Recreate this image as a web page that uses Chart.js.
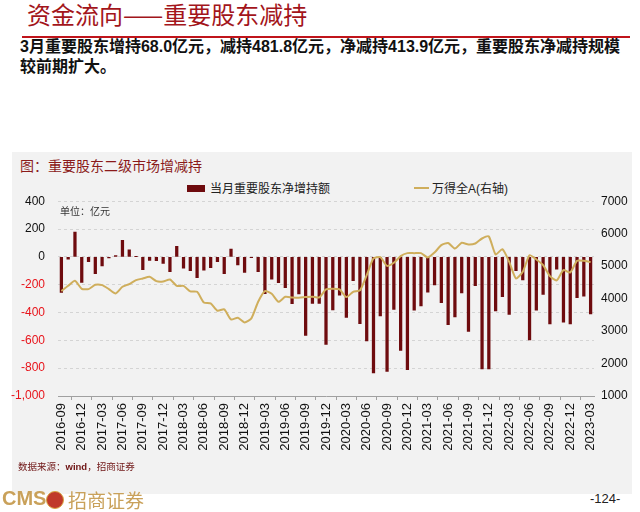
<!DOCTYPE html>
<html>
<head>
<meta charset="utf-8">
<script src="https://cdn.jsdelivr.net/npm/chart.js@4.4.0/dist/chart.umd.min.js"></script>
<style>
body { margin:0; width:640px; height:512px; position:relative; background:#fff; overflow:hidden; font-family:"Liberation Sans","Noto Sans CJK SC",sans-serif; }
.abs { position:absolute; white-space:nowrap; }
#titol { left:27px; top:-1px; font-size:24px; color:#a3151b; line-height:30px; font-family:"Noto Sans CJK SC",sans-serif; }
#ratlla { left:22px; top:36px; width:608px; height:2px; background:#c0141b; }
#text { left:20px; top:37px; font-size:16px; font-weight:bold; line-height:20px; color:#111; }
#panell { left:12px; top:152px; width:620px; height:342px; background:#f2f2f2; }
#figtitol { left:20px; top:155px; font-size:14px; color:#8b1a1a; }
.lleg { top:179px; font-size:12px; color:#222; }
#capsa { left:187px; top:185px; width:18px; height:7px; background:#6e0b0e; }
#linia { left:414px; top:187px; width:15px; height:2px; background:#cfae5c; }
#unitat { left:60px; top:203px; font-size:10px; color:#333; }
#font { left:18px; top:459px; font-size:9.5px; color:#6e1414; }
#cms { left:2px; top:487px; font-size:20px; font-weight:bold; color:#c9a15a; }
#logo { left:46px; top:491px; width:16px; height:16px; border-radius:50%; background:#c0392b; border:1px solid #d9a441; }
#nom { left:68px; top:486px; font-size:19px; color:#c9a15a; font-family:"Noto Sans CJK SC",sans-serif; }
#pagina { left:590px; top:491px; font-size:13px; color:#222; }
canvas { position:absolute; left:0; top:181px; }
</style>
</head>
<body>
<div class="abs" id="titol">资金流向——重要股东减持</div>
<div class="abs" id="ratlla"></div>
<div class="abs" id="text">3月重要股东增持68.0亿元，减持481.8亿元，净减持413.9亿元，重要股东净减持规模<br>较前期扩大。</div>
<div class="abs" id="panell"></div>
<div class="abs" id="figtitol">图：重要股东二级市场增减持</div>
<div class="abs" id="capsa"></div>
<div class="abs lleg" style="left:210px">当月重要股东净增持额</div>
<div class="abs" id="linia"></div>
<div class="abs lleg" style="left:432px">万得全A(右轴)</div>
<canvas id="grafic" width="640" height="289"></canvas>
<div class="abs" id="unitat">单位：亿元</div>
<div class="abs" id="font">数据来源：<b>wind</b>，招商证券</div>
<div class="abs" id="cms">CMS</div>
<div class="abs" id="logo"></div>
<div class="abs" id="nom">招商证券</div>
<div class="abs" id="pagina">-124-</div>
<script>
// mesos (categories)
let mesos = [
	"2016-09","2016-10","2016-11","2016-12",
	"2017-01","2017-02","2017-03","2017-04","2017-05","2017-06","2017-07","2017-08","2017-09","2017-10","2017-11","2017-12",
	"2018-01","2018-02","2018-03","2018-04","2018-05","2018-06","2018-07","2018-08","2018-09","2018-10","2018-11","2018-12",
	"2019-01","2019-02","2019-03","2019-04","2019-05","2019-06","2019-07","2019-08","2019-09","2019-10","2019-11","2019-12",
	"2020-01","2020-02","2020-03","2020-04","2020-05","2020-06","2020-07","2020-08","2020-09","2020-10","2020-11","2020-12",
	"2021-01","2021-02","2021-03","2021-04","2021-05","2021-06","2021-07","2021-08","2021-09","2021-10","2021-11","2021-12",
	"2022-01","2022-02","2022-03","2022-04","2022-05","2022-06","2022-07","2022-08","2022-09","2022-10","2022-11","2022-12",
	"2023-01","2023-02","2023-03"
];

// 当月重要股东净增持额 (亿元)
let netIncrement = [
	-255, -17, 178, -183,
	-34, -120, -65, -8, 10, 118, 50, 2, -92, -26, -28, -48,
	-106, 75, -82, -99, -150, -96, -77, -34, -120, 55, -58, -111,
	-5, -106, -265, -161, -186, -222, -337, -267, -564, -335, -335, -629,
	-381, -275, -436, -171, -480, -605, -834, -424, -824, -378, -672, -810,
	-383, -352, -253, -202, -330, -487, -431, -260, -535, -207, -805, -805,
	-389, -287, -414, -99, -166, -597, -383, -270, -482, -89, -470, -482,
	-293, -282, -410
];

// 万得全A (eix dret)
let windA = [
	4231, 4394, 4548, 4302,
	4292, 4425, 4415, 4292, 4160, 4364, 4446, 4569, 4620, 4672, 4538, 4528,
	4590, 4394, 4390, 4225, 4210, 3882, 3851, 3626, 3667, 3359, 3410, 3267,
	3390, 3903, 4230, 4148, 3903, 4056, 4036, 4025, 4046, 4060, 4036, 4282,
	4302, 4282, 4046, 4210, 4251, 4723, 5236, 5277, 5010, 5103, 5308, 5400,
	5400, 5400, 5267, 5421, 5646, 5713, 5544, 5718, 5667, 5698, 5851, 5913,
	5359, 5523, 5133, 4620, 4825, 5338, 5205, 5030, 4692, 4559, 4877, 4805,
	5164, 5164, 5123
];

// límits dels eixos
let leftTicks = { min: -1000, max: 400, step: 200 };
let rightTicks = { min: 1000, max: 7000, step: 1000 };

const data = {
	labels: mesos,
	datasets: [{
		type: 'line',
		label: '万得全A(右轴)',
		data: windA,
		yAxisID: 'y1',
		borderColor: '#cfae5c',
		borderWidth: 2,
		pointRadius: 0,
		tension: 0.2,
		order: 0
	}, {
		type: 'bar',
		label: '当月重要股东净增持额',
		data: netIncrement,
		yAxisID: 'y',
		backgroundColor: '#6e0b0e',
		barThickness: 2.6,
		order: 1
	}]
};

const config = {
	type: 'bar',
	data: data,
	options: {
		responsive: false,
		animation: false,
		devicePixelRatio: 1,
		layout: { padding: { top: 1, left: 0, right: 0, bottom: 0 } },
		plugins: { legend: { display: false }, tooltip: { enabled: false } },
		scales: {
			x: {
				offset: true,
				afterFit: (s) => { s.height = 74; },
				grid: { display: true, drawOnChartArea: false, drawTicks: true, tickLength: 4, color: '#a0a0a0' },
				border: { display: true, color: '#a0a0a0' },
				ticks: {
					autoSkip: false,
					maxRotation: 90,
					minRotation: 90,
					padding: 3,
					color: '#111',
					font: { family: 'Liberation Sans', size: 13 },
					callback: function(val, index) {
						return index % 3 === 0 ? mesos[index] : null;
					}
				}
			},
			y: {
				position: 'left',
				min: leftTicks.min,
				max: leftTicks.max,
				afterFit: (s) => { s.width = 58; },
				grid: { color: '#d4d4d4', drawTicks: false },
				border: { display: false, dash: [3, 3] },
				ticks: {
					stepSize: leftTicks.step,
					padding: 13,
					font: { family: 'Liberation Sans', size: 12 },
					color: (ctx) => ctx.tick.value < 0 ? '#e8141b' : '#111'
				}
			},
			y1: {
				position: 'right',
				min: rightTicks.min,
				max: rightTicks.max,
				afterFit: (s) => { s.width = 46; },
				grid: { drawOnChartArea: false, drawTicks: false },
				border: { display: false },
				ticks: {
					stepSize: rightTicks.step,
					padding: 7,
					font: { family: 'Liberation Sans', size: 12 },
					color: '#111',
					callback: (v) => String(v)
				}
			}
		}
	}
};

const myChart = new Chart(document.getElementById('grafic'), config);
</script>
</body>
</html>
